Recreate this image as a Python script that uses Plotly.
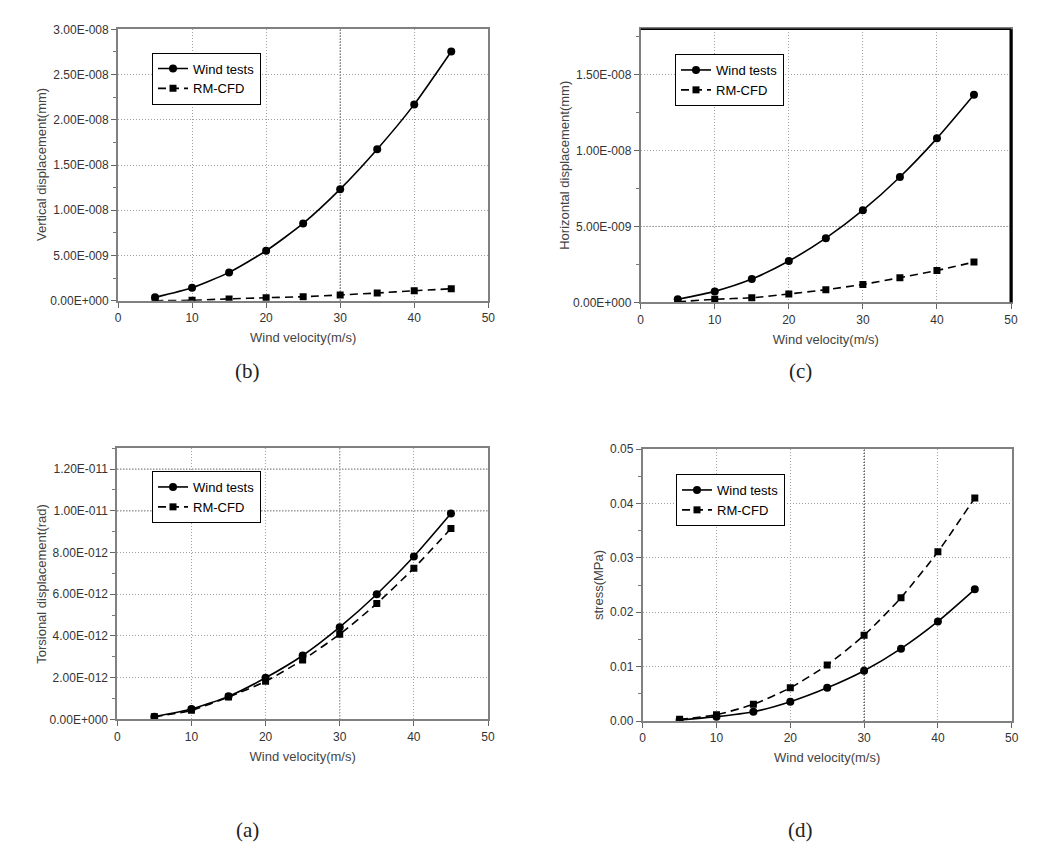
import plotly.graph_objects as go

# ---------------- data ----------------
wind_velocity = [5, 10, 15, 20, 25, 30, 35, 40, 45]

# (b) vertical displacement (mm)
vert_wind = [0.37e-9, 1.43e-9, 3.13e-9, 5.52e-9, 8.54e-9, 12.33e-9, 16.74e-9, 21.7e-9, 27.55e-9]
vert_cfd = [0.0, 0.05e-9, 0.2e-9, 0.33e-9, 0.44e-9, 0.63e-9, 0.85e-9, 1.1e-9, 1.32e-9]

# (c) horizontal displacement (mm)
hor_wind = [0.2e-9, 0.72e-9, 1.53e-9, 2.72e-9, 4.23e-9, 6.07e-9, 8.26e-9, 10.81e-9, 13.68e-9]
hor_cfd = [0.03e-9, 0.2e-9, 0.3e-9, 0.55e-9, 0.83e-9, 1.18e-9, 1.62e-9, 2.1e-9, 2.65e-9]

# (a) torsional displacement (rad)
tor_wind = [0.12e-12, 0.49e-12, 1.1e-12, 1.99e-12, 3.06e-12, 4.42e-12, 6.0e-12, 7.81e-12, 9.87e-12]
tor_cfd = [0.12e-12, 0.43e-12, 1.07e-12, 1.82e-12, 2.85e-12, 4.08e-12, 5.55e-12, 7.25e-12, 9.15e-12]

# (d) stress (MPa)
stress_wind = [0.0002, 0.0008, 0.0017, 0.00355, 0.0061, 0.00925, 0.0133, 0.0183, 0.0242]
stress_cfd = [0.0003, 0.00116, 0.00307, 0.0061, 0.0103, 0.01575, 0.02267, 0.0311, 0.041]

x_ticks = [0, 10, 20, 30, 40, 50]

b_tickvals = [0, 5e-9, 1e-8, 1.5e-8, 2e-8, 2.5e-8, 3e-8]
b_ticktext = ["0.00E+000", "5.00E-009", "1.00E-008", "1.50E-008", "2.00E-008", "2.50E-008", "3.00E-008"]
c_tickvals = [0, 5e-9, 1e-8, 1.5e-8]
c_ticktext = ["0.00E+000", "5.00E-009", "1.00E-008", "1.50E-008"]
a_tickvals = [0, 2e-12, 4e-12, 6e-12, 8e-12, 1e-11, 1.2e-11]
a_ticktext = ["0.00E+000", "2.00E-012", "4.00E-012", "6.00E-012", "8.00E-012", "1.00E-011", "1.20E-011"]
d_tickvals = [0, 0.01, 0.02, 0.03, 0.04, 0.05]
d_ticktext = ["0.00", "0.01", "0.02", "0.03", "0.04", "0.05"]

series_names = ["Wind tests", "RM-CFD"]
panel_labels = ["(b)", "(c)", "(a)", "(d)"]
y_titles = ["Vertical displacement(mm)", "Horizontal displacement(mm)",
            "Torsional displacement(rad)", "stress(MPa)"]
x_title = "Wind velocity(m/s)"

# ---------------- layout helpers ----------------
W, H = 1045, 855
PAGE_OFFSET = 8  # default body margin of the html page
FONT = "Liberation Sans, Arial, sans-serif"

def px_x(p):
    return (p - PAGE_OFFSET) / W

def px_y(p):
    return 1 - (p - PAGE_OFFSET) / H

panels = [
    dict(ax="", xd=(118, 488.3), yd=(29.3, 300.7), yr=[0, 3e-8], tv=b_tickvals, tt=b_ticktext,
         minor=2.5e-9, leg=(152, 52.5), data=(vert_wind, vert_cfd), legend="legend",
         lab=(247, 371), ytitle_x=42),
    dict(ax="2", xd=(640.7, 1011), yd=(29.3, 302.3), yr=[0, 1.8e-8], tv=c_tickvals, tt=c_ticktext,
         minor=2.5e-9, leg=(675, 54), data=(hor_wind, hor_cfd), legend="legend2",
         lab=(800, 371), ytitle_x=565),
    dict(ax="3", xd=(117.3, 488), yd=(448.3, 719.3), yr=[0, 1.3e-11], tv=a_tickvals, tt=a_ticktext,
         minor=1e-12, leg=(152, 471), data=(tor_wind, tor_cfd), legend="legend3",
         lab=(247, 830), ytitle_x=42),
    dict(ax="4", xd=(642.7, 1011.7), yd=(449, 721), yr=[0, 0.05], tv=d_tickvals, tt=d_ticktext,
         minor=0.005, leg=(676, 474), data=(stress_wind, stress_cfd), legend="legend4",
         lab=(800, 830), ytitle_x=598),
]

fig = go.Figure()
layout = dict(
    width=W, height=H,
    margin=dict(l=0, r=0, t=0, b=0, autoexpand=False),
    paper_bgcolor="white", plot_bgcolor="white",
    showlegend=True,
    font=dict(family=FONT, color="#333"),
)
shapes = []
annotations = []

for i, p in enumerate(panels):
    ax = p["ax"]
    xa = "x" + ax
    ya = "y" + ax
    w_vals, c_vals = p["data"]
    fig.add_trace(go.Scatter(
        x=wind_velocity, y=w_vals, name=series_names[0], mode="lines+markers",
        xaxis=xa, yaxis=ya, legend=p["legend"],
        line=dict(color="black", width=1.6, shape="spline", smoothing=0.6),
        marker=dict(symbol="circle", size=8, color="black"),
    ))
    fig.add_trace(go.Scatter(
        x=wind_velocity, y=c_vals, name=series_names[1], mode="lines+markers",
        xaxis=xa, yaxis=ya, legend=p["legend"],
        line=dict(color="black", width=1.6, dash="8px,5px", shape="spline", smoothing=0.6),
        marker=dict(symbol="square", size=7, color="black"),
    ))

    xkey = "xaxis" + ax
    ykey = "yaxis" + ax
    layout[xkey] = dict(
        domain=[px_x(p["xd"][0]), px_x(p["xd"][1])],
        anchor=ya, range=[0, 50],
        tickmode="array", tickvals=x_ticks, ticktext=[str(v) for v in x_ticks],
        ticks="outside", ticklen=5, tickwidth=1.2, tickcolor="#666",
        showline=True, linecolor="#808080", linewidth=1.8, mirror=True,
        showgrid=True, gridcolor="#a0a0a0", griddash="1px,2px", gridwidth=1,
        zeroline=False, automargin=False,
        tickfont=dict(family=FONT, size=12, color="#333"),
        title=dict(text=x_title, font=dict(family=FONT, size=13, color="#444"), standoff=9),
    )
    layout[ykey] = dict(
        domain=[px_y(p["yd"][1]), px_y(p["yd"][0])],
        anchor=xa, range=p["yr"],
        tickmode="array", tickvals=p["tv"], ticktext=p["tt"],
        ticks="outside", ticklen=5, tickwidth=1.2, tickcolor="#666",
        minor=dict(tickmode="linear", tick0=0, dtick=p["minor"], ticks="outside",
                   ticklen=3, tickcolor="#777", showgrid=False),
        showline=True, linecolor="#808080", linewidth=1.8, mirror=True,
        showgrid=True, gridcolor="#a0a0a0", griddash="1px,2px", gridwidth=1,
        zeroline=False, automargin=False,
        tickfont=dict(family=FONT, size=12, color="#333"),
    )
    annotations.append(dict(
        text=y_titles[i], xref="paper", yref="paper",
        x=px_x(p["ytitle_x"]), y=px_y((p["yd"][0] + p["yd"][1]) / 2),
        textangle=-90, showarrow=False, xanchor="center", yanchor="middle",
        font=dict(family=FONT, size=13, color="#444"),
    ))
    layout[p["legend"]] = dict(
        x=px_x(p["leg"][0]), y=px_y(p["leg"][1]), xanchor="left", yanchor="top",
        xref="paper", yref="paper",
        bgcolor="white", bordercolor="black", borderwidth=1,
        font=dict(family=FONT, size=13, color="black"),
        itemwidth=30, tracegroupgap=0,
    )
    annotations.append(dict(
        text=panel_labels[i], xref="paper", yref="paper",
        x=px_x(p["lab"][0]), y=px_y(p["lab"][1]),
        showarrow=False, xanchor="center", yanchor="middle",
        font=dict(family="Liberation Serif, DejaVu Serif, serif", size=21, color="#222"),
    ))

# darker dotted grid lines visible in the original scan
dark_x = {"": [30], "3": [30], "4": [30]}
for ax, vals in dark_x.items():
    for v in vals:
        shapes.append(dict(type="line", xref="x" + ax, yref="y" + ax + " domain",
                           x0=v, x1=v, y0=0, y1=1,
                           line=dict(color="black", width=1, dash="1px,2px"), layer="below"))
dark_y = {"2": [5e-9], "3": [1e-11, 1.2e-11]}
for ax, vals in dark_y.items():
    for v in vals:
        shapes.append(dict(type="line", xref="x" + ax + " domain", yref="y" + ax,
                           x0=0, x1=1, y0=v, y1=v,
                           line=dict(color="black", width=1, dash="1px,2px"), layer="below"))
# heavy right border of panel (c)
shapes.append(dict(type="line", xref="x2 domain", yref="y2 domain", x0=1, x1=1, y0=0, y1=1,
                   line=dict(color="black", width=3)))
shapes.append(dict(type="line", xref="x2 domain", yref="y2 domain", x0=0, x1=1, y0=1, y1=1,
                   line=dict(color="black", width=1.5)))

layout["shapes"] = shapes
layout["annotations"] = annotations
fig.update_layout(**layout)
fig.write_html("out.html")
